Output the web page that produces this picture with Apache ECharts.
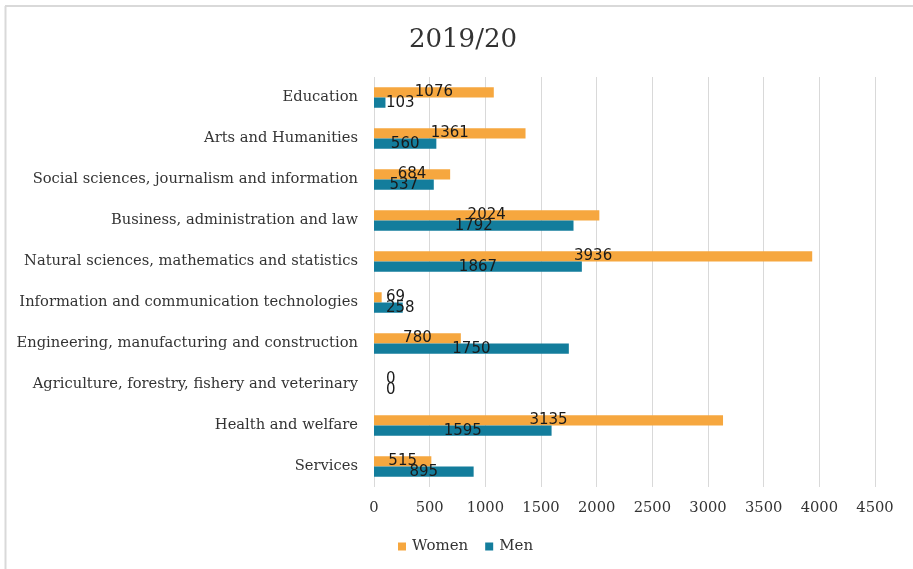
<!DOCTYPE html>
<html>
<head>
<meta charset="utf-8">
<script src="https://cdn.jsdelivr.net/npm/echarts@6/dist/echarts.min.js"></script>
<style>
  html, body { margin: 0; padding: 0; background: #ffffff; }
  #chart { width: 913px; height: 569px; }
</style>
</head>
<body>
<div id="chart"></div>
<script>
const titleText = "2019/20";
const categories = [
  "Education",
  "Arts and Humanities",
  "Social sciences, journalism and information",
  "Business, administration and law",
  "Natural sciences, mathematics and statistics",
  "Information and communication technologies",
  "Engineering, manufacturing and construction",
  "Agriculture, forestry, fishery and veterinary",
  "Health and welfare",
  "Services"
];
const women = [1076, 1361, 684, 2024, 3936, 69, 780, 0, 3135, 515];
const men   = [103, 560, 537, 1792, 1867, 258, 1750, 0, 1595, 895];
const seriesNames = ["Women", "Men"];
const axisMin = 0, axisMax = 4500, axisStep = 500;

const colors = ["#F6A73F", "#137D9C"];
const labelFont = "DejaVu Serif";

function labelLayout(params) {
  const r = params.rect;
  const w = params.labelRect.width;
  const cx = r.x + r.width / 2;
  const minCx = r.x + 12 + w / 2;
  return {
    x: Math.max(cx, minCx),
    y: r.y + r.height / 2,
    align: 'center',
    verticalAlign: 'middle'
  };
}

const chart = echarts.init(document.getElementById('chart'), null, { renderer: 'canvas' });
chart.setOption({
  backgroundColor: '#ffffff',
  animation: false,
  color: colors,
  title: {
    text: titleText,
    left: 458, top: 22,
    textAlign: 'center',
    textStyle: { fontFamily: labelFont, fontSize: 26, fontWeight: 'normal', color: '#333333' }
  },
  graphic: [
    { type: 'line', shape: { x1: 5, y1: 6, x2: 913, y2: 6 }, style: { stroke: '#d9d9d9', lineWidth: 2 }, silent: true },
    { type: 'line', shape: { x1: 5.5, y1: 6, x2: 5.5, y2: 569 }, style: { stroke: '#d9d9d9', lineWidth: 2 }, silent: true }
  ],
  legend: {
    data: seriesNames,
    left: 398, top: 539, padding: 0,
    icon: 'rect', itemWidth: 8, itemHeight: 8, itemGap: 17,
    textStyle: { fontFamily: labelFont, fontSize: 15, color: '#333333', padding: [0, 0, 0, 1] }
  },
  grid: { left: 374, right: 38, top: 77, bottom: 82, containLabel: false },
  xAxis: {
    type: 'value',
    min: axisMin, max: axisMax, interval: axisStep,
    axisLine: { show: false },
    axisTick: { show: false },
    splitLine: { show: true, lineStyle: { color: '#d9d9d9', width: 1 } },
    axisLabel: { margin: 14, fontFamily: labelFont, fontSize: 14.7, color: '#333333', formatter: v => String(v) }
  },
  yAxis: {
    type: 'category',
    data: categories,
    inverse: true,
    axisLine: { show: false },
    axisTick: { show: false },
    axisLabel: { margin: 16, fontFamily: labelFont, fontSize: 14.7, color: '#333333' }
  },
  series: [
    {
      name: seriesNames[0], type: 'bar', data: women,
      barGap: '0%', barCategoryGap: '50%',
      label: { show: true, position: 'inside', fontFamily: 'DejaVu Sans', fontSize: 15, color: '#1a1a1a' },
      labelLayout: labelLayout
    },
    {
      name: seriesNames[1], type: 'bar', data: men,
      barGap: '0%', barCategoryGap: '50%',
      label: { show: true, position: 'inside', fontFamily: 'DejaVu Sans', fontSize: 15, color: '#1a1a1a' },
      labelLayout: labelLayout
    }
  ]
});
</script>
</body>
</html>
